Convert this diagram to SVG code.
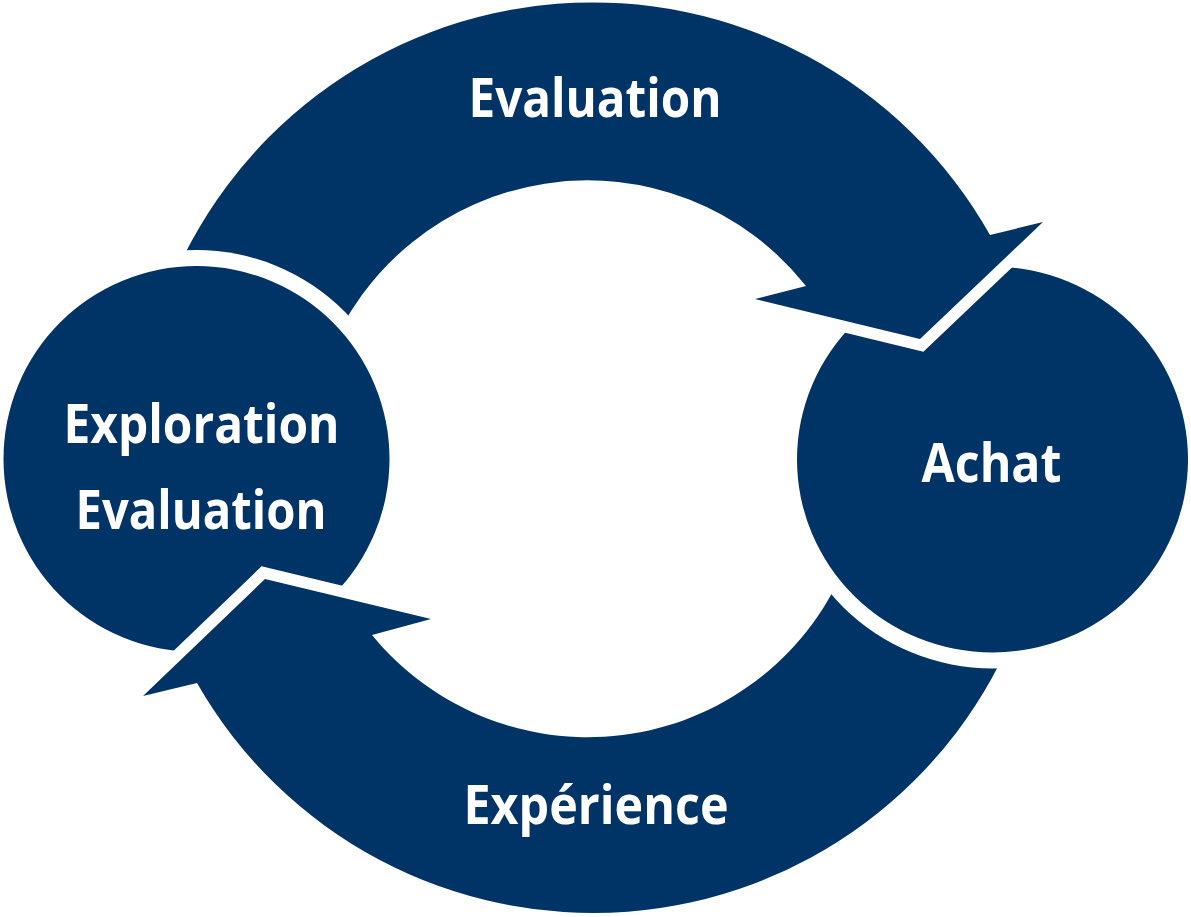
<svg xmlns="http://www.w3.org/2000/svg" width="1191" height="917" viewBox="0 0 1191 917">
  <style>
    .shape { fill: #003366; }
    .arrow { fill: #003366; stroke: #ffffff; stroke-width: 23; stroke-linejoin: miter; stroke-miterlimit: 10; paint-order: stroke; }
    .label { font-family: "Open Sans", "Noto Sans", "DejaVu Sans", sans-serif; font-weight: 700; font-size: 53px; fill: #ffffff; text-anchor: middle; }
  </style>
  <defs>
    <!-- cut the arrow tails a little wider than the circle they leave from -->
    <mask id="cut-left" maskUnits="userSpaceOnUse" x="0" y="0" width="1191" height="917">
      <rect x="0" y="0" width="1191" height="917" fill="#fff"/>
      <circle cx="196.5" cy="459" r="209" fill="#000"/>
    </mask>
    <mask id="cut-right" maskUnits="userSpaceOnUse" x="0" y="0" width="1191" height="917">
      <rect x="0" y="0" width="1191" height="917" fill="#fff"/>
      <ellipse cx="992.5" cy="459.5" rx="211" ry="209" fill="#000"/>
    </mask>
  </defs>

  <rect width="1191" height="917" fill="#ffffff"/>

  <g id="node-exploration">
    <circle class="shape" cx="196.5" cy="459" r="193"/>
    <text class="label" x="201.5" y="443" textLength="276" lengthAdjust="spacingAndGlyphs">Exploration</text>
    <text class="label" x="201" y="529" textLength="251" lengthAdjust="spacingAndGlyphs">Evaluation</text>
  </g>

  <g id="node-achat">
    <ellipse class="shape" cx="992.5" cy="459.5" rx="195.5" ry="193"/>
    <text class="label" x="991.5" y="482" textLength="140" lengthAdjust="spacingAndGlyphs">Achat</text>
  </g>

  <g id="connectors">
    <g id="arrow-evaluation">
      <path class="arrow" mask="url(#cut-left)" d="M 164.9,300 A 456 456 0 0 1 990,235 L 1043,222 L 920,339 L 755,299 L 806,286 A 279 279 0 0 0 326.7,360 Z"/>
      <text class="label" x="595" y="117" textLength="253" lengthAdjust="spacingAndGlyphs">Evaluation</text>
    </g>
    <g id="arrow-experience">
      <path class="arrow" mask="url(#cut-right)" d="M 1018.9,620 A 456 456 0 0 1 197,683 L 143,696 L 265,579 L 431,619 L 372,635 A 279 279 0 0 0 847.6,560 Z"/>
      <text class="label" x="596" y="824" textLength="265" lengthAdjust="spacingAndGlyphs">Expérience</text>
    </g>
  </g>
</svg>
